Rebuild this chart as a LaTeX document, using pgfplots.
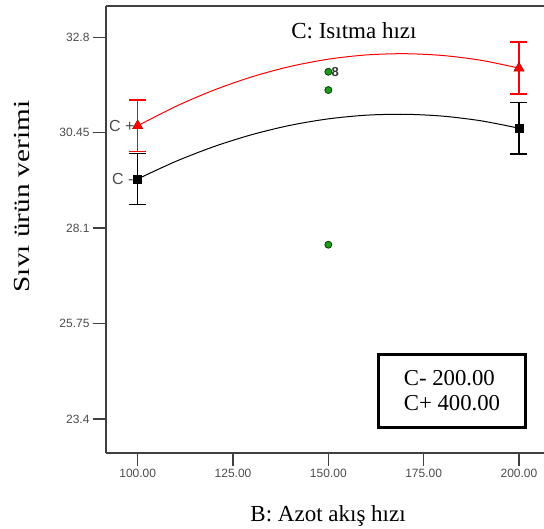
\documentclass[border=0pt]{standalone}
\usepackage{fontspec}
\setmainfont{Liberation Serif}
\setsansfont{Liberation Sans}
\usepackage{pgfplots}
\pgfplotsset{compat=1.18}
\definecolor{axgray}{HTML}{404040}
\definecolor{ptgreen}{HTML}{1F9A1F}
\begin{document}
\begin{tikzpicture}
\useasboundingbox (-106bp,-76bp) rectangle (438bp,453bp);
\begin{axis}[
  at={(0,0)}, anchor=south west,
  scale only axis, width=438bp, height=447bp,
  xmin=91.69, xmax=206.56, ymin=22.56, ymax=33.57,
  axis y line*=left, axis x line*=box,
  axis line style={line width=2bp, color=axgray},
  xtick={100,125,150,175,200},
  xticklabels={100.00,125.00,150.00,175.00,200.00},
  ytick={23.4,25.75,28.1,30.45,32.8},
  yticklabels={23.4,25.75,28.1,30.45,32.8},
  xtick pos=left, ytick pos=left,
  tick align=outside, major tick length=13bp,
  tick style={line width=1.5bp, color=axgray},
  tick label style={font=\sffamily\fontsize{12bp}{14bp}\selectfont, color=black!70},
  clip=false,
]
\addplot[red, line width=1bp, smooth] coordinates {
 (100,30.62) (110,31.097) (120,31.499) (130,31.827) (140,32.081) (150,32.26)
 (160,32.365) (170,32.395) (180,32.351) (190,32.233) (200,32.04)};
\addplot[black, line width=1bp, smooth] coordinates {
 (100,29.31) (110,29.743) (120,30.107) (130,30.403) (140,30.631) (150,30.79)
 (160,30.881) (170,30.903) (180,30.857) (190,30.743) (200,30.56)};
\addplot[only marks, mark=square*, mark size=4bp, black,
  error bars/.cd, y dir=both, y explicit,
  error bar style={line width=1.5bp, black},
  error mark options={rotate=90, mark size=8.5bp, line width=1.5bp, black}]
  coordinates {(100,29.31) +- (0,0.63) (200,30.56) +- (0,0.63)};
\addplot[only marks, mark=triangle*, mark size=6bp, red,
  mark options={fill=red, draw=red!60!black},
  error bars/.cd, y dir=both, y explicit,
  error bar style={line width=1.5bp, red},
  error mark options={rotate=90, mark size=8.5bp, line width=1.5bp, red}]
  coordinates {(100,30.62) +- (0,0.64) (200,32.04) +- (0,0.64)};
\addplot[only marks, mark=*, mark size=3.5bp,
  mark options={fill=ptgreen, draw=green!25!black, line width=0.8bp}]
  coordinates {(150,31.95) (150,31.50) (150,27.69)};
\node[anchor=west, inner sep=0, xshift=3bp, font=\sffamily\bfseries\fontsize{13bp}{13bp}\selectfont, text=black!80] at (axis cs:150,31.95) {8};
\node[anchor=east, inner sep=0, xshift=-3bp, font=\sffamily\fontsize{16bp}{16bp}\selectfont, text=black!70] at (axis cs:100,30.62) {C +};
\node[anchor=east, inner sep=0, xshift=-4bp, font=\sffamily\fontsize{16bp}{16bp}\selectfont, text=black!70] at (axis cs:100,29.31) {C -};
\node[anchor=base, inner sep=0, font=\fontsize{23bp}{23bp}\selectfont] at (axis cs:156.7,32.78) {C: Isıtma hızı};
\node[draw, line width=3bp, minimum width=147bp, minimum height=73bp, inner sep=0, align=left, font=\fontsize{22.75bp}{25bp}\selectfont] at (axis cs:182.43,24.09) {C- 200.00\\C+ 400.00};
\node[rotate=90, inner sep=0, font=\fontsize{23bp}{23bp}\selectfont] at (rel axis cs:-0.1918,0.5738) {\scalebox{1.27}[1]{Sıvı ürün verimi}};
\node[anchor=base, inner sep=0, yshift=-68.7bp, font=\fontsize{23bp}{23bp}\selectfont] at (rel axis cs:0.507,0) {B: Azot akış hızı};
\end{axis}
\end{tikzpicture}
\end{document}
